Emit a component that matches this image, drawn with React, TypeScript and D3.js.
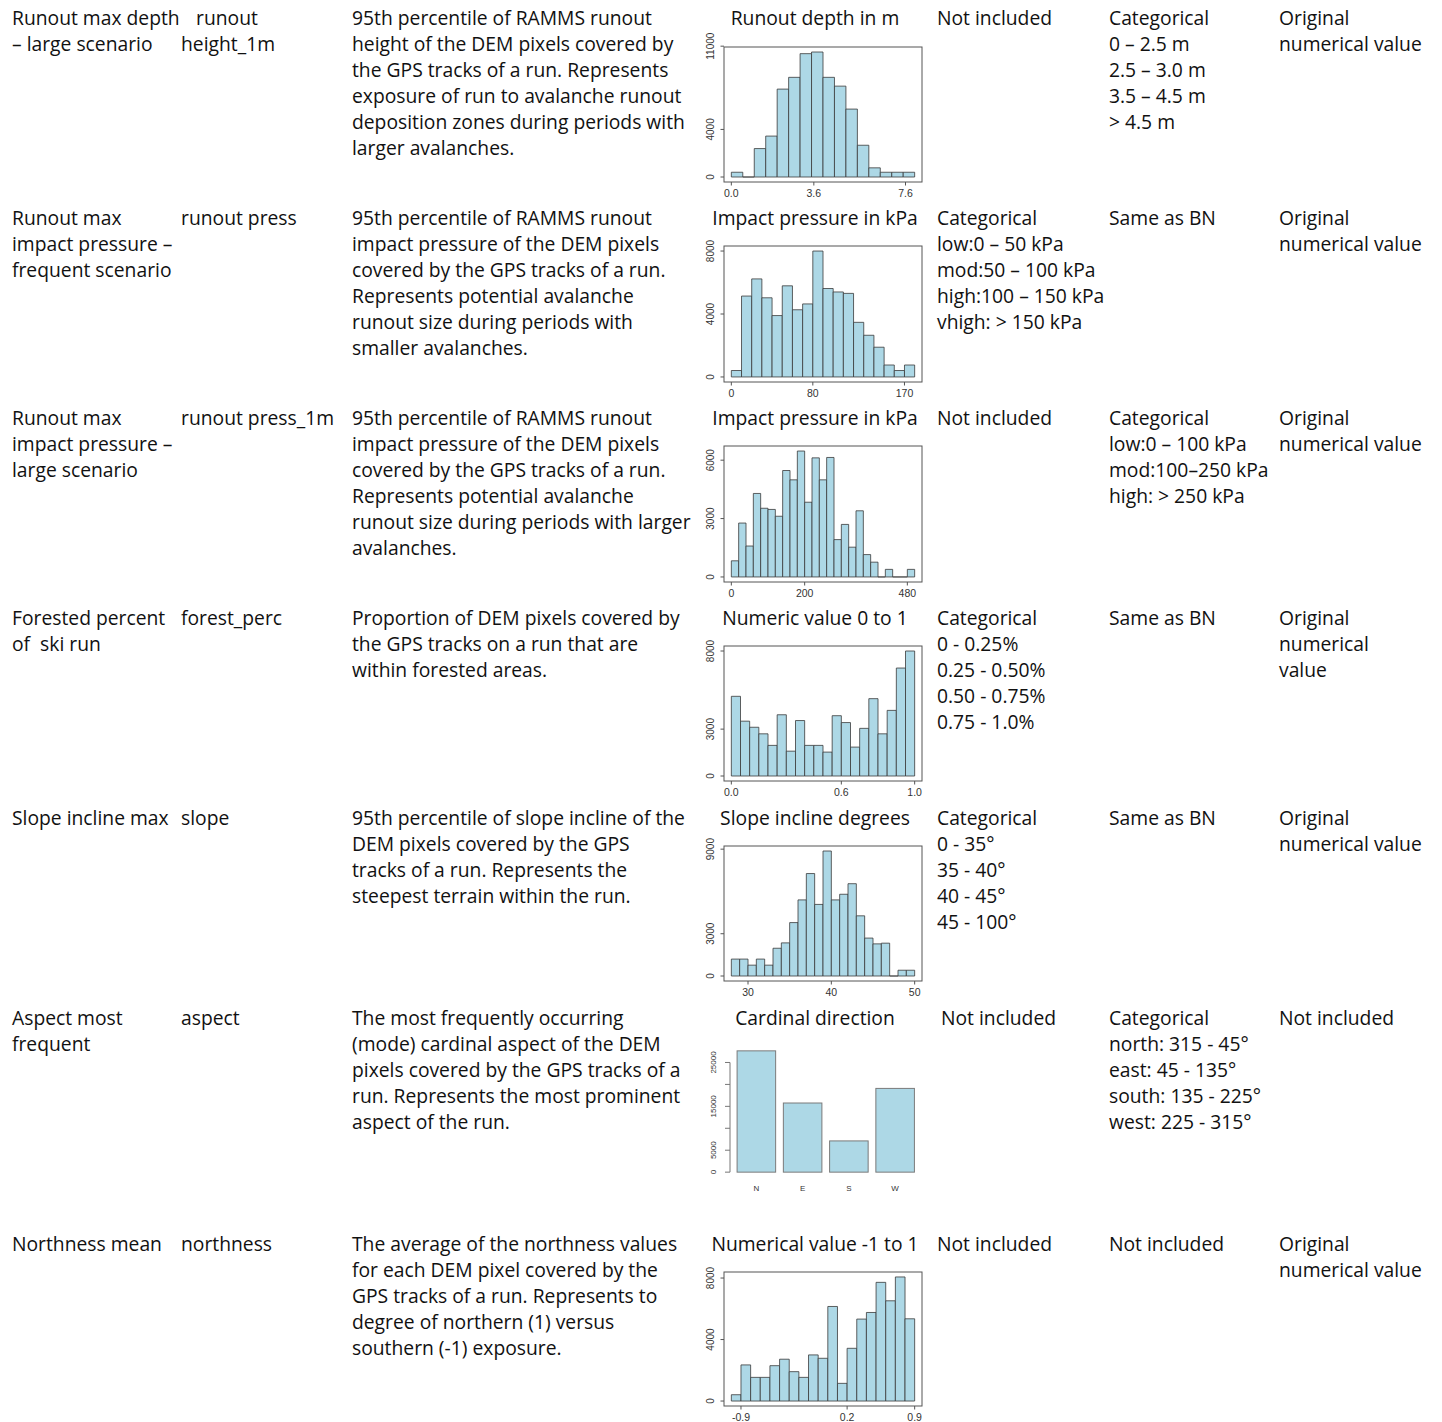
import React from 'react';
import * as d3 from 'd3';

// table text, one entry per row
const variableNames = [
  ['Runout max depth', '– large scenario'],
  ['Runout max', 'impact pressure –', 'frequent scenario'],
  ['Runout max', 'impact pressure –', 'large scenario'],
  ['Forested percent', 'of  ski run'],
  ['Slope incline max'],
  ['Aspect most', 'frequent'],
  ['Northness mean'],
];
const shortNames = [
  ['   runout', 'height_1m'],
  ['runout press'],
  ['runout press_1m'],
  ['forest_perc'],
  ['slope'],
  ['aspect'],
  ['northness'],
];
const descriptions = [
  ['95th percentile of RAMMS runout', 'height of the DEM pixels covered by', 'the GPS tracks of a run. Represents', 'exposure of run to avalanche runout', 'deposition zones during periods with', 'larger avalanches.'],
  ['95th percentile of RAMMS runout', 'impact pressure of the DEM pixels', 'covered by the GPS tracks of a run.', 'Represents potential avalanche', 'runout size during periods with', 'smaller avalanches.'],
  ['95th percentile of RAMMS runout', 'impact pressure of the DEM pixels', 'covered by the GPS tracks of a run.', 'Represents potential avalanche', 'runout size during periods with larger', 'avalanches.'],
  ['Proportion of DEM pixels covered by', 'the GPS tracks on a run that are', 'within forested areas.'],
  ['95th percentile of slope incline of the', 'DEM pixels covered by the GPS', 'tracks of a run. Represents the', 'steepest terrain within the run.'],
  ['The most frequently occurring', '(mode) cardinal aspect of the DEM', 'pixels covered by the GPS tracks of a', 'run. Represents the most prominent', 'aspect of the run.'],
  ['The average of the northness values', 'for each DEM pixel covered by the', 'GPS tracks of a run. Represents to', 'degree of northern (1) versus', 'southern (-1) exposure.'],
];
const valueTitles = [
  'Runout depth in m',
  'Impact pressure in kPa',
  'Impact pressure in kPa',
  'Numeric value 0 to 1',
  'Slope incline degrees',
  'Cardinal direction',
  'Numerical value -1 to 1',
];
const bnClasses = [
  ['Not included'],
  ['Categorical', 'low:0 – 50 kPa', 'mod:50 – 100 kPa', 'high:100 – 150 kPa', 'vhigh: > 150 kPa'],
  ['Not included'],
  ['Categorical', '0 - 0.25%', '0.25 - 0.50%', '0.50 - 0.75%', '0.75 - 1.0%'],
  ['Categorical', '0 - 35°', '35 - 40°', '40 - 45°', '45 - 100°'],
  ['Not included'],
  ['Not included'],
];
const otherClasses = [
  ['Categorical', '0 – 2.5 m', '2.5 – 3.0 m', '3.5 – 4.5 m', '> 4.5 m'],
  ['Same as BN'],
  ['Categorical', 'low:0 – 100 kPa', 'mod:100–250 kPa', 'high: > 250 kPa'],
  ['Same as BN'],
  ['Same as BN'],
  ['Categorical', 'north: 315 - 45°', 'east: 45 - 135°', 'south: 135 - 225°', 'west: 225 - 315°'],
  ['Not included'],
];
const modelValues = [
  ['Original', 'numerical value'],
  ['Original', 'numerical value'],
  ['Original', 'numerical value'],
  ['Original', 'numerical', 'value'],
  ['Original', 'numerical value'],
  ['Not included'],
  ['Original', 'numerical value'],
];

// histogram counts
const depthCounts = [400, 0, 2390, 3440, 7390, 8380, 10370, 10510, 8380, 7640, 5710, 2670, 770, 400, 400, 400];
const pressCounts = [410, 5140, 6230, 5030, 3900, 5790, 4270, 4640, 8000, 5620, 5400, 5310, 3470, 2650, 1890, 760, 410, 760];
const press1mCounts = [830, 2770, 1590, 4290, 3530, 3470, 3120, 5470, 4990, 6470, 3840, 6120, 4990, 6140, 1920, 2700, 1530, 3400, 1150, 760, 0, 390, 0, 0, 390];
const forestCounts = [5100, 3510, 3120, 2700, 1960, 3920, 1590, 3550, 1960, 1960, 1530, 3860, 3420, 1850, 3050, 4950, 2700, 4200, 6910, 8000];
const slopeCounts = [1200, 1200, 770, 1200, 770, 1970, 2350, 3790, 5400, 7270, 5080, 8870, 5400, 5800, 6550, 4270, 2690, 2280, 2330, 0, 410, 410];
const northCounts = [410, 2350, 1540, 1540, 2300, 2720, 1910, 1540, 3000, 2780, 6150, 1150, 3430, 5330, 5760, 7720, 6520, 8070, 5350];

const aspectCategories = ['N', 'E', 'S', 'W'];
const aspectCounts = [27650, 15760, 7120, 19090];
const aspectTicks = [0, 5000, 10000, 15000, 20000, 25000];
const aspectTickLabels = ['0', '5000', '', '15000', '', '25000'];

const histograms = [
  { counts: depthCounts, start: 0, step: 0.5, xTicks: [0, 3.6, 7.6], xLabels: ['0.0', '3.6', '7.6'], yTicks: [0, 4000, 11000], top: 47, bottom: 182 },
  { counts: pressCounts, start: 0, step: 10, xTicks: [0, 80, 170], xLabels: ['0', '80', '170'], yTicks: [0, 4000, 8000], top: 246, bottom: 382 },
  { counts: press1mCounts, start: 0, step: 20, xTicks: [0, 200, 480], xLabels: ['0', '200', '480'], yTicks: [0, 3000, 6000], top: 446, bottom: 582 },
  { counts: forestCounts, start: 0, step: 0.05, xTicks: [0, 0.6, 1.0], xLabels: ['0.0', '0.6', '1.0'], yTicks: [0, 3000, 8000], top: 646, bottom: 781 },
  { counts: slopeCounts, start: 28, step: 1, xTicks: [30, 40, 50], xLabels: ['30', '40', '50'], yTicks: [0, 3000, 9000], top: 846, bottom: 981 },
  { counts: northCounts, start: -1.0, step: 0.1, xTicks: [-0.9, 0.2, 0.9], xLabels: ['-0.9', '0.2', '0.9'], yTicks: [0, 4000, 8000], top: 1272, bottom: 1406 },
];

const FONT = '"Open Sans", sans-serif';
const AXIS_FONT = '"Liberation Sans", Arial, sans-serif';
const FILL = '#add8e6';
const colX = [12, 181, 352, 815, 937, 1109, 1279];
const rowY = [18, 218, 418, 618, 818, 1018, 1244];
const LINE = 26;

function Cell({ x, y, lines, anchor = 'start' }) {
  return (
    <text x={x} y={y + 6.5} fontFamily={FONT} fontSize={19.3} fill="#111" textAnchor={anchor} style={{ whiteSpace: 'pre' }}>
      {lines.map((l, i) => (
        <tspan key={i} x={x} dy={i === 0 ? 0 : LINE}>{l}</tspan>
      ))}
    </text>
  );
}

function Histogram({ counts, start, step, xTicks, xLabels, yTicks, top, bottom }) {
  const left = 724, right = 922;
  const end = start + step * counts.length;
  const pad = (end - start) * 0.04;
  const x = d3.scaleLinear().domain([start - pad, end + pad]).range([left, right]);
  const ymax = d3.max(counts) as number;
  const y = d3.scaleLinear().domain([-0.04 * ymax, 1.04 * ymax]).range([bottom, top]);
  const y0 = y(0);
  return (
    <g>
      {counts.map((c, i) => {
        const x0 = x(start + i * step), x1 = x(start + (i + 1) * step), y1 = y(c);
        return (
          <path key={i} d={`M${x0},${y0}H${x1}V${y1}H${x0}Z`} fill={FILL} stroke="#3a3a3a" strokeWidth={0.8} />
        );
      })}
      <rect x={left} y={top} width={right - left} height={bottom - top} fill="none" stroke="#555" strokeWidth={1} />
      {yTicks.map((t, i) => (
        <g key={i}>
          <line x1={left - 3.5} x2={left} y1={y(t)} y2={y(t)} stroke="#555" />
          <text transform={`translate(714,${y(t)}) rotate(-90)`} textAnchor="middle" fontFamily={AXIS_FONT} fontSize={10} fill="#333">{t}</text>
        </g>
      ))}
      {xTicks.map((t, i) => (
        <g key={i}>
          <line x1={x(t)} x2={x(t)} y1={bottom} y2={bottom + 3.5} stroke="#555" />
          <text x={x(t)} y={bottom + 15} textAnchor="middle" fontFamily={AXIS_FONT} fontSize={10.5} fill="#333">{xLabels[i]}</text>
        </g>
      ))}
    </g>
  );
}

function AspectBars() {
  const top = 1046, bottom = 1177;
  const x = d3.scaleLinear().domain([0.016, 4.984]).range([730, 921.5]);
  const ymax = d3.max(aspectCounts) as number;
  const y = d3.scaleLinear().domain([-0.04 * ymax, 1.04 * ymax]).range([bottom, top]);
  const bw = x(1.2) - x(0.2);
  return (
    <g>
      {aspectCounts.map((c, i) => {
        const x0 = x(0.2 + i * 1.2);
        return (
          <g key={i}>
            <rect x={x0} y={y(c)} width={bw} height={y(0) - y(c)} fill={FILL} stroke="#7a7a7a" strokeWidth={1} />
            <text x={x0 + bw / 2} y={1191} textAnchor="middle" fontFamily={AXIS_FONT} fontSize={8} fill="#333">{aspectCategories[i]}</text>
          </g>
        );
      })}
      <line x1={730} x2={730} y1={y(0)} y2={y(25000)} stroke="#777" />
      {aspectTicks.map((t, i) => (
        <g key={i}>
          <line x1={725} x2={730} y1={y(t)} y2={y(t)} stroke="#777" />
          <text transform={`translate(716,${y(t)}) rotate(-90)`} textAnchor="middle" fontFamily={AXIS_FONT} fontSize={8} fill="#333">{aspectTickLabels[i]}</text>
        </g>
      ))}
    </g>
  );
}

export default function App() {
  return (
    <svg width={1442} height={1422} style={{ position: 'absolute', left: 0, top: 0, background: '#fff' }}>
      {rowY.map((ry, r) => (
        <g key={r}>
          <Cell x={colX[0]} y={ry} lines={variableNames[r]} />
          <Cell x={colX[1]} y={ry} lines={shortNames[r]} />
          <Cell x={colX[2]} y={ry} lines={descriptions[r]} />
          <Cell x={colX[3]} y={ry} lines={[valueTitles[r]]} anchor="middle" />
          <Cell x={r === 5 ? 941 : colX[4]} y={ry} lines={bnClasses[r]} />
          <Cell x={colX[5]} y={ry} lines={otherClasses[r]} />
          <Cell x={colX[6]} y={ry} lines={modelValues[r]} />
        </g>
      ))}
      {histograms.map((h, i) => (
        <Histogram key={i} {...h} />
      ))}
      <AspectBars />
    </svg>
  );
}
